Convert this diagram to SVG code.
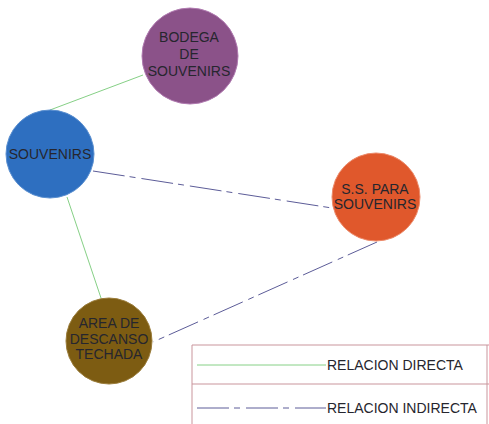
<svg xmlns="http://www.w3.org/2000/svg" width="489" height="424" viewBox="0 0 489 424">
<style>
.lbl{font-family:"Liberation Sans",Arial,sans-serif;font-size:14px;fill:#26262e;text-anchor:middle}
.leg{font-family:"Liberation Sans",Arial,sans-serif;font-size:14px;fill:#26262e}
.direct{stroke:#86d086;stroke-width:1;fill:none}
.indirect{stroke:#5c5c98;stroke-width:1;fill:none;stroke-dasharray:32 5 6 6}
.box{stroke:#c9959c;stroke-width:1;fill:none}
</style>
<rect width="489" height="424" fill="#ffffff"/>
<g id="connectors">
<line class="direct" x1="50" y1="110" x2="143" y2="75"/>
<line class="direct" x1="67" y1="197" x2="101" y2="298"/>
<line class="indirect" x1="93" y1="171" x2="332" y2="208"/>
<line class="indirect" x1="377" y1="242" x2="153" y2="342"/>
</g>
<g id="node-bodega">
<circle cx="190" cy="56" r="48" fill="#8b5289" stroke="#b07ab0" stroke-width="1"/>
<text class="lbl" x="189" y="42">BODEGA</text>
<text class="lbl" x="189" y="59">DE</text>
<text class="lbl" x="189" y="76">SOUVENIRS</text>
</g>
<g id="node-souvenirs">
<circle cx="50" cy="154" r="44" fill="#2e6fc0" stroke="#5a8fd0" stroke-width="1"/>
<text class="lbl" x="50" y="159">SOUVENIRS</text>
</g>
<g id="node-ss">
<circle cx="376" cy="197" r="44" fill="#e0582c" stroke="#ec8a6a" stroke-width="1"/>
<text class="lbl" x="375" y="194">S.S. PARA</text>
<text class="lbl" x="375" y="209">SOUVENIRS</text>
</g>
<g id="node-area">
<circle cx="109" cy="341" r="43" fill="#7d5c12" stroke="#9a7c3a" stroke-width="1"/>
<text class="lbl" x="109" y="328">AREA DE</text>
<text class="lbl" x="109" y="344">DESCANSO</text>
<text class="lbl" x="109" y="359">TECHADA</text>
</g>
<g id="legend">
<path class="box" d="M192 424 V345 H489 M192 384 H489 M487 345 V424"/>
<line class="direct" x1="197" y1="365" x2="326" y2="365"/>
<text class="leg" x="327" y="370">RELACION DIRECTA</text>
<line class="indirect" x1="197" y1="408" x2="326" y2="408"/>
<text class="leg" x="327" y="413">RELACION INDIRECTA</text>
</g>
</svg>
